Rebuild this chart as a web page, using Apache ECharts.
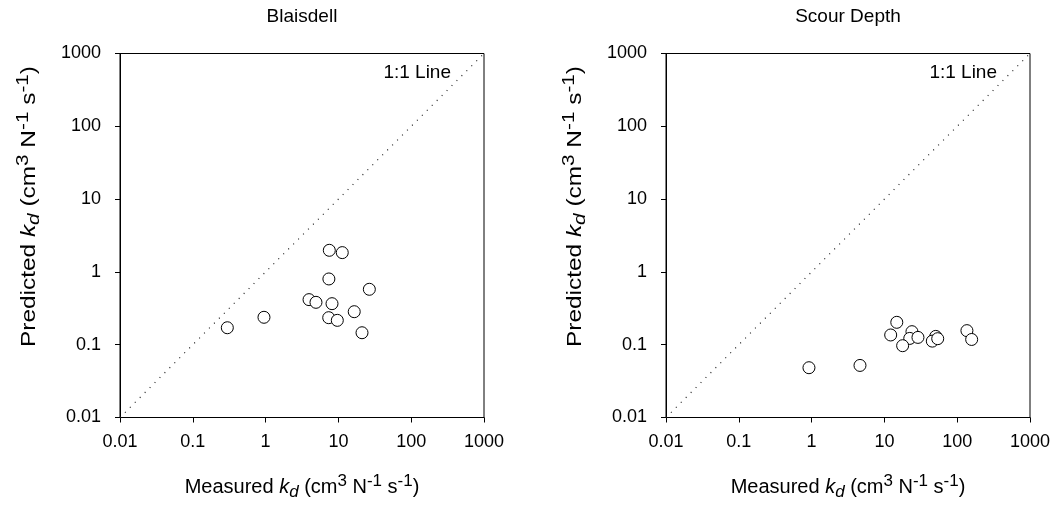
<!DOCTYPE html>
<html>
<head>
<meta charset="utf-8">
<script src="https://cdn.jsdelivr.net/npm/echarts@6/dist/echarts.min.js"></script>
<style>
html,body{margin:0;padding:0;background:#fff;}
#c{width:1059px;height:508px;}
</style>
</head>
<body>
<div id="c"></div>
<script>
// ---- data ----
const titles = ['Blaisdell', 'Scour Depth'];
const tickLabels = ['0.01', '0.1', '1', '10', '100', '1000'];
const axisMin = 0.01, axisMax = 1000;
const oneToOne = [[0.01, 0.01], [1000, 1000]];
const lineLabel = '1:1 Line';

const measuredBlaisdell = [7.5, 11.3, 7.4, 26.6, 3.95, 4.92, 8.17, 16.5, 0.95, 7.36, 9.66, 0.298, 21.1];
const predictedBlaisdell = [1.98, 1.84, 0.80, 0.577, 0.416, 0.382, 0.366, 0.284, 0.238, 0.235, 0.216, 0.171, 0.146];
const measuredScour = [14.8, 12.2, 23.9, 22.3, 28.9, 17.8, 50.7, 45.5, 54.0, 136, 158, 0.92, 4.62];
const predictedScour = [0.203, 0.136, 0.151, 0.122, 0.126, 0.0969, 0.130, 0.112, 0.121, 0.156, 0.118, 0.0483, 0.0519];

// ---- chart ----
const FONT = '"Liberation Sans", Arial, sans-serif';
const pairs = (xs, ys) => xs.map((x, i) => [x, ys[i]]);
const fmt = v => tickLabels[Math.round(Math.log10(v)) + 2];

const grids = [
  { left: 120, top: 53.5, width: 364, height: 364 },
  { left: 666, top: 53.5, width: 364, height: 364 }
];

function axis(gi, margin) {
  return {
    type: 'log', logBase: 10, min: axisMin, max: axisMax, gridIndex: gi,
    splitNumber: 5,
    axisLine: { show: true, lineStyle: { color: '#000', width: 1 } },
    axisTick: { show: true, inside: false, length: 5, lineStyle: { color: '#000' } },
    minorTick: { show: false },
    splitLine: { show: false },
    axisLabel: { color: '#000', fontSize: 18, fontFamily: FONT, formatter: fmt, margin: margin }
  };
}

const xAxes = [axis(0, 16), axis(1, 16)];
const yAxes = [axis(0, 19), axis(1, 19)];

const rich = {
  n: { fontSize: 20, fontFamily: FONT, fill: '#000' },
  k: { fontSize: 20, fontFamily: FONT, fontStyle: 'italic', fill: '#000' },
  d: { fontSize: 17, fontFamily: FONT, fontStyle: 'italic', fill: '#000', padding: [10, 0, 0, 0] },
  s: { fontSize: 17, fontFamily: FONT, fill: '#000', padding: [0, 0, 11, 0] }
};
function unitText(word) {
  return '{n|' + word + ' }{k|k}{d|d}{n| (cm}{s|3}{n| N}{s|-1}{n| s}{s|-1}{n|)}';
}

const graphic = [];
[0, 1].forEach(i => {
  const g = grids[i];
  const cx = g.left + g.width / 2;
  graphic.push({
    type: 'text', x: cx, y: 17,
    style: { text: titles[i], font: '19px ' + FONT, fill: '#000', align: 'center', verticalAlign: 'middle' }
  });
  graphic.push({
    type: 'text', x: g.left + g.width - 33, y: 72.5,
    style: { text: lineLabel, font: '19px ' + FONT, fill: '#000', align: 'right', verticalAlign: 'middle' }
  });
  graphic.push({
    type: 'text', x: cx, y: 487,
    style: { text: unitText('Measured'), rich: rich, align: 'center', verticalAlign: 'middle' }
  });
  graphic.push({
    type: 'text', x: g.left - 91, y: 206.5, rotation: Math.PI / 2, scaleX: 1.22,
    style: { text: unitText('Predicted'), rich: rich, align: 'center', verticalAlign: 'middle' }
  });
});

function lineSeries(i) {
  return {
    type: 'line', xAxisIndex: i, yAxisIndex: i, data: oneToOne, symbol: 'none', silent: true,
    lineStyle: { type: [1, 6], color: '#222', width: 1.2 }, z: 1
  };
}
function scatterSeries(i, xs, ys) {
  return {
    type: 'scatter', xAxisIndex: i, yAxisIndex: i, data: pairs(xs, ys),
    symbol: 'circle', symbolSize: 12,
    itemStyle: { color: '#fff', borderColor: '#000', borderWidth: 1, opacity: 1 }, z: 3
  };
}

const chart = echarts.init(document.getElementById('c'), null, { renderer: 'canvas' });
chart.setOption({
  animation: false,
  backgroundColor: '#fff',
  grid: grids.map(g => Object.assign({ show: true, borderColor: '#000', borderWidth: 1, backgroundColor: 'transparent', containLabel: false }, g)),
  xAxis: xAxes,
  yAxis: yAxes,
  graphic: graphic,
  series: [
    lineSeries(0), scatterSeries(0, measuredBlaisdell, predictedBlaisdell),
    lineSeries(1), scatterSeries(1, measuredScour, predictedScour)
  ]
});
</script>
</body>
</html>
